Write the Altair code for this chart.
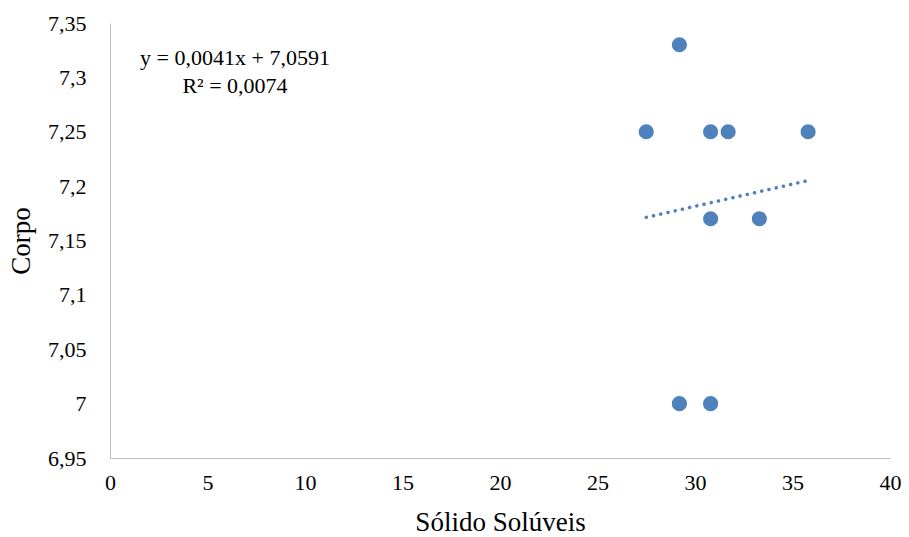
import altair as alt
import pandas as pd

solidos = [27.5, 29.2, 30.8, 31.7, 35.8, 30.8, 33.3, 29.2, 30.8]
corpo = [7.25, 7.33, 7.25, 7.25, 7.25, 7.17, 7.17, 7.0, 7.0]
x_ticks = [0, 5, 10, 15, 20, 25, 30, 35, 40]
y_ticks = [6.95, 7.0, 7.05, 7.1, 7.15, 7.2, 7.25, 7.3, 7.35]
eq_lines = ["y = 0,0041x + 7,0591", "R² = 0,0074"]

df = pd.DataFrame({"x": solidos, "y": corpo})
color = "#4F81BD"
font = "Liberation Serif"

xs = alt.Scale(domain=[0, 40], nice=False, zero=False)
ys = alt.Scale(domain=[6.95, 7.35], nice=False, zero=False)

base = alt.Chart(df)

points = base.mark_circle(size=230, opacity=1, color=color).encode(
    x=alt.X("x:Q", scale=xs, title="Sólido Solúveis",
            axis=alt.Axis(values=x_ticks, labelPadding=14, titlePadding=16)),
    y=alt.Y("y:Q", scale=ys, title="Corpo",
            axis=alt.Axis(values=y_ticks, labelPadding=24,
                          labelExpr="replace(format(datum.value, '.2~f'), '.', ',')",
                          titlePadding=12)),
)

trend = base.transform_regression("x", "y").mark_line(
    color=color, strokeWidth=3.5, strokeDash=[0.1, 7.3], strokeCap="round"
).encode(x=alt.X("x:Q", scale=xs), y=alt.Y("y:Q", scale=ys))

eq1 = alt.Chart(pd.DataFrame({"t": [eq_lines[0]]})).mark_text(
    font=font, fontSize=22, color="#000", align="center", baseline="middle"
).encode(text="t:N", x=alt.value(125), y=alt.value(35))
eq2 = alt.Chart(pd.DataFrame({"t": [eq_lines[1]]})).mark_text(
    font=font, fontSize=22, color="#000", align="center", baseline="middle"
).encode(text="t:N", x=alt.value(125), y=alt.value(63))

chart = alt.layer(points, trend, eq1, eq2).properties(
    width=780, height=435,
    autosize=alt.AutoSizeParams(type="none"),
    padding={"left": 110, "top": 23, "right": 19, "bottom": 79},
    background="white",
).configure(font=font).configure_view(stroke=None).configure_axis(
    grid=False, ticks=False, domainColor="#BFBFBF", domainWidth=1,
    labelFlush=False,
    labelFont=font, labelFontSize=22, labelColor="#000",
    titleFont=font, titleFontSize=27, titleFontWeight="normal", titleColor="#000",
)

chart.save("out.html", embed_options={"renderer": "svg", "actions": False})
